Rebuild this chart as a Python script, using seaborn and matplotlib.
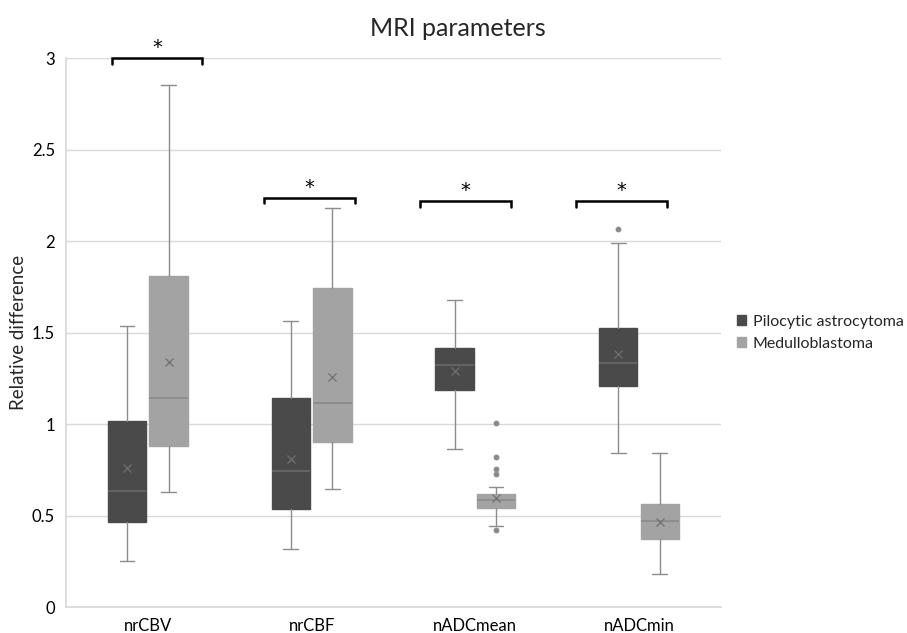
import matplotlib
matplotlib.use("Agg")
import matplotlib.pyplot as plt
from matplotlib.patches import Patch
import seaborn as sns

# MRI parameters
params = ["nrCBV", "nrCBF", "nADCmean", "nADCmin"]
groups = ["Pilocytic astrocytoma", "Medulloblastoma"]

# pilocytic astrocytoma
pa_low = [0.25, 0.315, 0.863, 0.842]
pa_q1 = [0.466, 0.536, 1.186, 1.209]
pa_med = [0.636, 0.741, 1.322, 1.335]
pa_q3 = [1.018, 1.140, 1.417, 1.525]
pa_high = [1.537, 1.561, 1.676, 1.991]
pa_mean = [0.758, 0.812, 1.291, 1.384]
pa_fliers = [[], [], [], [2.069]]

# medulloblastoma
mb_low = [0.627, 0.643, 0.441, 0.180]
mb_q1 = [0.881, 0.903, 0.543, 0.373]
mb_med = [1.140, 1.118, 0.583, 0.468]
mb_q3 = [1.810, 1.745, 0.616, 0.563]
mb_high = [2.856, 2.182, 0.657, 0.842]
mb_mean = [1.337, 1.257, 0.597, 0.467]
mb_fliers = [[], [], [1.006, 0.820, 0.754, 0.725, 0.419], []]

# significance brackets (left, right, height)
br_left = [-0.22, 0.71, 1.66, 2.615]
br_right = [0.33, 1.265, 2.215, 3.17]
br_y = [3.0, 2.237, 2.219, 2.219]

sns.set_theme(style="white")
plt.rcParams["font.family"] = ["Lato", "DejaVu Sans"]

colors = ["#4a4a4a", "#a3a3a3"]
offsets = [-0.127, 0.127]
box_w = 0.235

fig = plt.figure(figsize=(9.07, 6.33), dpi=100)
ax = fig.add_axes([0.0728, 0.041, 0.722, 0.867])

series = [
    (pa_low, pa_q1, pa_med, pa_q3, pa_high, pa_mean, pa_fliers),
    (mb_low, mb_q1, mb_med, mb_q3, mb_high, mb_mean, mb_fliers),
]

for g, (lo, q1, med, q3, hi, mn, fl) in enumerate(series):
    stats = []
    for i in range(len(params)):
        stats.append(dict(whislo=lo[i], q1=q1[i], med=med[i], q3=q3[i],
                          whishi=hi[i], mean=mn[i], fliers=fl[i]))
    pos = [i + offsets[g] for i in range(len(params))]
    med_col = "#6a6a6a" if g == 0 else "#8a8a8a"
    ax.bxp(stats, positions=pos, widths=box_w, patch_artist=True,
           showmeans=True, showfliers=True,
           boxprops=dict(facecolor=colors[g], edgecolor=colors[g], linewidth=1),
           medianprops=dict(color=med_col, linewidth=1.2),
           whiskerprops=dict(color="#8c8c8c", linewidth=1),
           capprops=dict(color="#8c8c8c", linewidth=1),
           meanprops=dict(marker="x", markeredgecolor="#707070", markersize=6,
                          markeredgewidth=0.9),
           flierprops=dict(marker="o", markerfacecolor="#8c8c8c",
                           markeredgecolor="#8c8c8c", markersize=3.2),
           capwidths=0.09)

for l, r, y in zip(br_left, br_right, br_y):
    ax.plot([l, l, r, r], [y - 0.03, y, y, y - 0.03], color="black",
            linewidth=1.8, clip_on=False, solid_joinstyle="miter")
    ax.text((l + r) / 2, y + 0.005, "*", ha="center", va="bottom",
            fontsize=14, color="black", family="DejaVu Sans")

ax.set_xlim(-0.5, 3.5)
ax.set_ylim(0, 3)
ax.set_yticks([0, 0.5, 1, 1.5, 2, 2.5, 3])
ax.set_yticklabels(["0", "0.5", "1", "1.5", "2", "2.5", "3"])
ax.set_xticks(range(len(params)))
ax.set_xticklabels(params)
ax.tick_params(axis="both", labelsize=12, length=0, pad=8, colors="#000000")
ax.yaxis.grid(True, color="#d9d9d9", linewidth=1)
ax.set_axisbelow(True)
for s in ["top", "right"]:
    ax.spines[s].set_visible(False)
ax.spines["left"].set_color("#d9d9d9")
ax.spines["bottom"].set_color("#d9d9d9")

ax.set_ylabel("Relative difference", fontsize=13.5)
ax.yaxis.set_label_coords(-0.06, 0.5)
fig.text(0.505, 0.955, "MRI parameters", ha="center", va="center", fontsize=18)

handles = [Patch(facecolor=c, edgecolor=c) for c in colors]
ax.legend(handles, groups, loc="center left", bbox_to_anchor=(1.0, 0.5),
          frameon=False, fontsize=11.5, handlelength=0.6, handleheight=0.6,
          handletextpad=0.4, labelspacing=0.5, borderaxespad=0.6)

fig.savefig("out.png", dpi=100)
